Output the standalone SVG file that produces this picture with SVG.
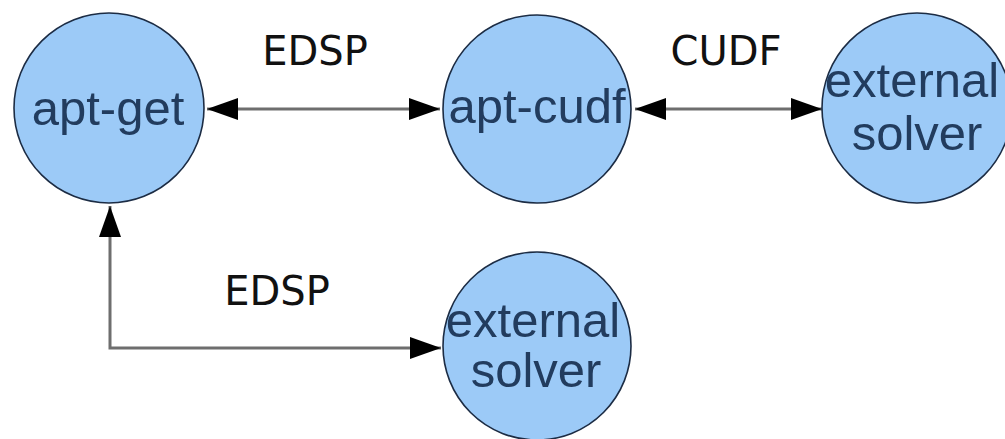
<svg xmlns="http://www.w3.org/2000/svg" width="1005" height="439" viewBox="0 0 1005 439">
<style>
.node{fill:#9ccaf7;stroke:#1c2c44;stroke-width:1.6}
.nt{font-family:"Liberation Sans",Arial,sans-serif;font-size:49px;fill:#223c5e;text-anchor:middle}
.lbl{font-family:"DejaVu Sans",sans-serif;font-size:40px;fill:#111;text-anchor:middle}
.conn{fill:none;stroke:#6e6e6e;stroke-width:3}
</style>
<defs>
<marker id="ah" markerUnits="userSpaceOnUse" markerWidth="32" markerHeight="22" refX="31" refY="11" orient="auto-start-reverse">
<path d="M0,0 L31,11 L0,22 Z" fill="#000"/>
</marker>
</defs>
<rect width="1005" height="439" fill="#fff"/>
<g id="connectors">
<line class="conn" x1="207" y1="109" x2="440" y2="109" marker-start="url(#ah)" marker-end="url(#ah)"/>
<line class="conn" x1="635" y1="109" x2="822" y2="109" marker-start="url(#ah)" marker-end="url(#ah)"/>
<path class="conn" d="M110,206 L110,348 L441,348" marker-start="url(#ah)" marker-end="url(#ah)"/>
</g>
<g id="labels">
<text class="lbl" x="315" y="65">EDSP</text>
<text class="lbl" x="726" y="65">CUDF</text>
<text class="lbl" x="277" y="305">EDSP</text>
</g>
<g id="apt-get">
<circle class="node" cx="109" cy="108" r="95"/>
<text class="nt" x="108" y="125">apt-get</text>
</g>
<g id="apt-cudf">
<circle class="node" cx="537" cy="109" r="94"/>
<text class="nt" x="537" y="123">apt-cudf</text>
</g>
<g id="external-solver-1">
<circle class="node" cx="917" cy="108" r="95"/>
<text class="nt" x="912" y="97">external</text>
<text class="nt" x="917" y="150">solver</text>
</g>
<g id="external-solver-2">
<circle class="node" cx="537" cy="346" r="94"/>
<text class="nt" x="533" y="337">external</text>
<text class="nt" x="536" y="387">solver</text>
</g>
</svg>
